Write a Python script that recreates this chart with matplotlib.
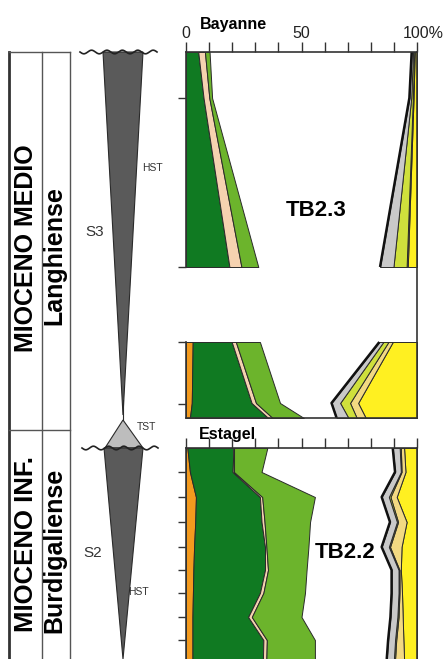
import matplotlib.pyplot as plt
import matplotlib.transforms as mtransforms
import numpy as np

plt.rcParams['font.family'] = ['Liberation Sans', 'DejaVu Sans']

# --- data: percentages of each group per sample ---
# Bayanne section (depth in m from top of column), break between 21.5 and 29.0
bay_depth = [0, 4.6, 21.5, 29.0, 35.1, 36.6]
bay_gap = (21.5, 29.0)
bay_ticks = [4.6, 21.5, 29.0, 35.2]
bay_orange = [0, 0, 0, 2.9, 2.5, 1.7]
bay_dkgreen = [5.3, 7.6, 18.8, 16.9, 25.9, 33.9]
bay_peach = [2.9, 2.5, 5.2, 1.8, 1.9, 1.9]
bay_green = [2.0, 1.2, 7.3, 10.4, 10.4, 13.5]
bay_grey = [0.6, 0.8, 5.8, 1.7, 3.7, 5.1]
bay_lime = [0.5, 0.7, 5.7, 2.2, 4.3, 3.6]
bay_tan = [0.2, 0.3, 0.5, 1.9, 3.5, 3.9]
bay_yellow = [1.0, 1.5, 4.0, 10.5, 25.5, 22.2]

# Estagel section
est_depth = [0, 2.4, 4.9, 7.4, 9.9, 12.2, 14.5, 16.9, 19.2, 21.1]
est_ticks = [2.4, 4.9, 7.4, 9.9, 12.2, 14.5, 16.9, 19.2]
est_orange = [0.6, 1.7, 4.3, 4.0, 3.5, 3.2, 3.0, 2.8, 2.8, 2.8]
est_dkgreen = [19.9, 18.5, 27.7, 28.7, 30.7, 31.0, 29.0, 24.1, 30.7, 30.5]
est_peach = [0.3, 0.6, 1.0, 1.3, 0.6, 1.3, 1.5, 1.6, 1.5, 1.5]
est_green = [14.4, 11.9, 22.8, 19.7, 18.2, 16.7, 18.0, 21.5, 20.8, 21.0]
est_grey = [3.0, 2.5, 3.1, 3.0, 3.1, 3.0, 3.0, 3.0, 3.0, 3.1]
est_lime = [0.5, 0.3, 0.7, 0.5, 0.5, 0.4, 0.4, 0.5, 0.5, 0.5]
est_tan = [1.4, 1.7, 2.7, 3.7, 5.0, 0.6, 1.1, 1.8, 3.1, 3.9]
est_yellow = [5.6, 5.0, 8.8, 4.5, 6.7, 7.0, 6.5, 6.2, 5.9, 5.6]

left_colors = ['#f39a1e', '#107a22', '#f5d2b0', '#6cb42c']
right_colors = ['#fff021', '#f2d982', '#cfe03c', '#c9c9c9']
EDGE = '#2a2a2a'

W, H = 446, 659
fig = plt.figure(figsize=(W / 100, H / 100), dpi=100)

bg = fig.add_axes([0, 0, 1, 1])
bg.set_xlim(0, W)
bg.set_ylim(H, 0)
bg.axis('off')


def px_axes(x0, y0, x1, y1):
    return fig.add_axes([x0 / W, 1 - y1 / H, (x1 - x0) / W, (y1 - y0) / H])


def draw_column(ax, depth, left, right, gap=None):
    depth = np.array(depth, dtype=float)
    if gap is None:
        parts = [np.ones(len(depth), bool)]
    else:
        parts = [depth <= gap[0], depth >= gap[1]]
    for m in parts:
        d = depth[m]
        base = np.zeros(len(d))
        for vals, c in zip(left, left_colors):
            top = base + np.array(vals)[m]
            ax.fill_betweenx(d, base, top, facecolor=c, edgecolor=EDGE, lw=0.7)
            base = top
        base = np.full(len(d), 100.0)
        for vals, c in zip(right, right_colors):
            low = base - np.array(vals)[m]
            ax.fill_betweenx(d, low, base, facecolor=c, edgecolor=EDGE, lw=0.7)
            base = low
        ax.plot(base, d, color='#111111', lw=1.8, solid_capstyle='butt')
        ax.plot([0, 0], [d[0], d[-1]], color='#333333', lw=1.2, clip_on=False)


def style_axes(ax, depth_max, yticks, labels):
    ax.set_xlim(0, 100)
    ax.set_ylim(depth_max, 0)
    ax.xaxis.tick_top()
    ax.set_xticks([0, 50, 100])
    ax.set_xticks(range(0, 101, 10), minor=True)
    ax.tick_params(axis='x', which='both', direction='out', length=7, width=1,
                   color='#333333', top=True, bottom=False, labeltop=labels,
                   labelbottom=False, pad=1, labelsize=11.5, labelcolor='#222222')
    if labels:
        ax.set_xticklabels(['0', '50', '100%'])
        last = ax.get_xticklabels()[-1]
        shift = mtransforms.ScaledTranslation(6 / 100, 0, fig.dpi_scale_trans)
        last.set_transform(last.get_transform() + shift)
    ax.set_yticks(yticks)
    ax.tick_params(axis='y', direction='out', length=6, width=1,
                   color='#333333', labelleft=False)
    ax.spines['left'].set_visible(False)
    for s in ['top', 'right', 'bottom']:
        ax.spines[s].set_color('#333333')
        ax.spines[s].set_linewidth(1.2)
    ax.set_facecolor('none')


ax1 = px_axes(186, 52, 417, 418)
draw_column(ax1, bay_depth,
            [bay_orange, bay_dkgreen, bay_peach, bay_green],
            [bay_yellow, bay_tan, bay_lime, bay_grey], gap=bay_gap)
style_axes(ax1, 36.6, bay_ticks, True)

ax2 = px_axes(186, 448, 417, 659)
draw_column(ax2, est_depth,
            [est_orange, est_dkgreen, est_peach, est_green],
            [est_yellow, est_tan, est_lime, est_grey])
style_axes(ax2, 21.1, est_ticks, False)
ax2.spines['bottom'].set_visible(False)

bg.text(233, 24, 'Bayanne', ha='center', va='center', fontsize=11.5, fontweight='bold')
bg.text(227, 434, 'Estagel', ha='center', va='center', fontsize=11.5, fontweight='bold')
bg.text(316, 210, 'TB2.3', ha='center', va='center', fontsize=16, fontweight='bold')
bg.text(345, 553, 'TB2.2', ha='center', va='center', fontsize=16, fontweight='bold')

# --- chronostratigraphic column ---
col_x = [9, 42, 70]
col_top, col_split = 52, 430
bg.plot([col_x[0], col_x[0]], [col_top, H], color='#333333', lw=2)
for x in col_x[1:]:
    bg.plot([x, x], [col_top, H], color='#555555', lw=1)
for y in [col_top, col_split]:
    bg.plot([col_x[0], col_x[2]], [y, y], color='#555555', lw=1)
bg.text(26, 248, 'MIOCENO MEDIO', rotation=90, ha='center', va='center',
        fontsize=18, fontweight='bold')
bg.text(54, 256, 'Langhiense', rotation=90, ha='center', va='center',
        fontsize=18, fontweight='bold')
bg.text(26, 544, 'MIOCENO INF.', rotation=90, ha='center', va='center',
        fontsize=18.5, fontweight='bold')
bg.text(54, 550, 'Burdigaliense', rotation=90, ha='center', va='center',
        fontsize=18, fontweight='bold')

# --- sequence column (S3, TST, S2) ---
seq_cx = 123
bg.fill([103, 143, seq_cx], [52, 52, 415], facecolor='#5a5a5a', edgecolor='#2a2a2a', lw=0.8)
bg.plot([seq_cx, seq_cx], [400, 420], color='#2a2a2a', lw=0.8)
bg.fill([105, 143, seq_cx], [448, 448, 420], facecolor='#bdbdbd', edgecolor='#2a2a2a', lw=0.8)
bg.fill([104, 143, seq_cx], [448, 448, 659], facecolor='#5a5a5a', edgecolor='#2a2a2a', lw=0.8)
for yb, x0, x1 in [(52, 80, 157), (448, 82, 158)]:
    xs = np.linspace(x0, x1, 200)
    bg.plot(xs, yb + 1.8 * np.sin((xs - x0) / (x1 - x0) * 2 * np.pi * 5), color='#222222', lw=1.2)

bg.text(152, 168, 'HST', ha='center', va='center', fontsize=7.5, color='#333333')
bg.text(95, 232, 'S3', ha='center', va='center', fontsize=11, color='#333333')
bg.text(147, 427, 'TST', ha='center', va='center', fontsize=7.5, color='#333333')
bg.text(93, 553, 'S2', ha='center', va='center', fontsize=11, color='#333333')
bg.text(138, 592, 'HST', ha='center', va='center', fontsize=7.5, color='#333333')

fig.savefig('out.png', dpi=100)
